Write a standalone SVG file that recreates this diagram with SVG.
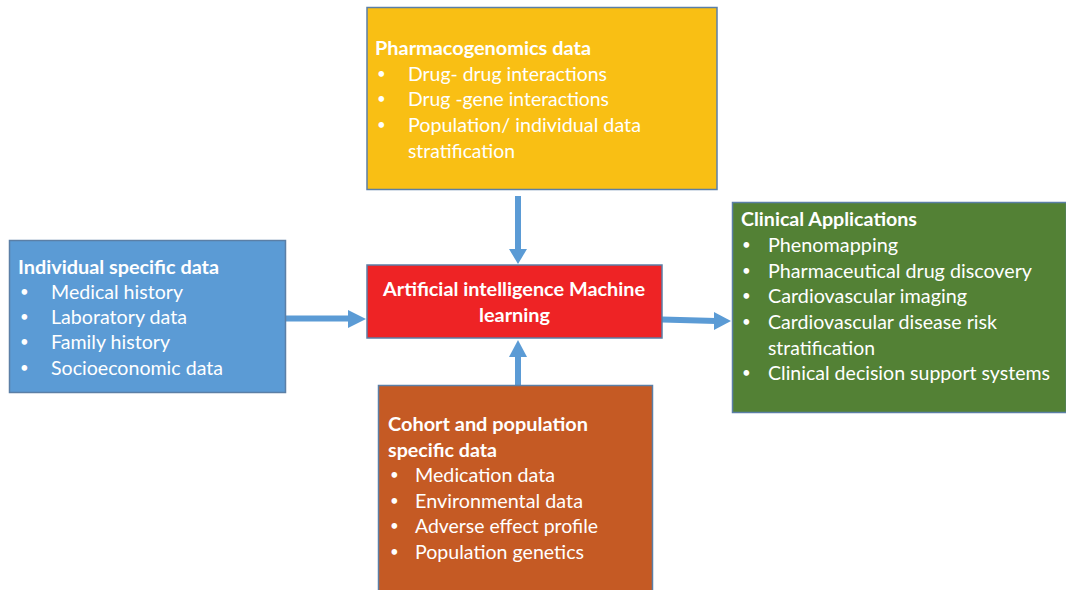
<svg xmlns="http://www.w3.org/2000/svg" width="1066" height="590" viewBox="0 0 1066 590">
<style>
.box{stroke:#5B7FA6;stroke-width:1.5}
text{font-family:Lato,"Open Sans","Liberation Sans",sans-serif;font-size:19px;fill:#ffffff}
.b{font-weight:bold}
.d{font-size:15px}
.arrow{fill:#5B9BD5}
.shaft{stroke:#5B9BD5;stroke-width:6;fill:none}
</style>
<rect width="1066" height="590" fill="#ffffff"/>
<g id="connectors">
<line class="shaft" x1="518" y1="196" x2="518" y2="250"/>
<polygon class="arrow" points="509,249 527,249 518,264"/>
<line class="shaft" x1="286" y1="318.5" x2="350" y2="318.5"/>
<polygon class="arrow" points="348,310 348,328 366,319"/>
<line class="shaft" x1="518" y1="386" x2="518" y2="355"/>
<polygon class="arrow" points="509,357 527,357 518,340"/>
<line class="shaft" x1="662" y1="319.5" x2="716" y2="321"/>
<polygon class="arrow" points="714,312 714,330 731,321"/>
</g>
<g id="pharmacogenomics">
<rect class="box" x="367" y="7.5" width="350" height="182" fill="#F9BF14"/>
<text class="b" x="375" y="54.5" textLength="216" lengthAdjust="spacingAndGlyphs">Pharmacogenomics data</text>
<text class="d" x="377" y="79">•</text><text x="408" y="80.5" textLength="199" lengthAdjust="spacingAndGlyphs">Drug- drug interactions</text>
<text class="d" x="377" y="104">•</text><text x="408" y="105.5" textLength="201" lengthAdjust="spacingAndGlyphs">Drug -gene interactions</text>
<text class="d" x="377" y="130">•</text><text x="408" y="131.5" textLength="233" lengthAdjust="spacingAndGlyphs">Population/ individual data</text>
<text x="408" y="157.5" textLength="107" lengthAdjust="spacingAndGlyphs">stratification</text>
</g>
<g id="individual">
<rect class="box" x="9.5" y="240.5" width="276" height="152" fill="#5B9BD5"/>
<text class="b" x="18" y="273.5" textLength="201" lengthAdjust="spacingAndGlyphs">Individual specific data</text>
<text class="d" x="20" y="297">•</text><text x="51" y="298.5" textLength="132" lengthAdjust="spacingAndGlyphs">Medical history</text>
<text class="d" x="20" y="322">•</text><text x="51" y="323.5" textLength="136" lengthAdjust="spacingAndGlyphs">Laboratory data</text>
<text class="d" x="20" y="347">•</text><text x="51" y="348.5" textLength="119" lengthAdjust="spacingAndGlyphs">Family history</text>
<text class="d" x="20" y="373">•</text><text x="51" y="374.5" textLength="172" lengthAdjust="spacingAndGlyphs">Socioeconomic data</text>
</g>
<g id="ai">
<rect class="box" x="367" y="265" width="295" height="73" fill="#EE2325"/>
<text class="b" x="383" y="295.5" textLength="262" lengthAdjust="spacingAndGlyphs">Artificial intelligence Machine</text>
<text class="b" x="479" y="321.5" textLength="71" lengthAdjust="spacingAndGlyphs">learning</text>
</g>
<g id="clinical">
<rect class="box" x="732.5" y="202.5" width="334" height="210" fill="#538135"/>
<text class="b" x="741" y="225.5" textLength="176" lengthAdjust="spacingAndGlyphs">Clinical Applications</text>
<text class="d" x="742" y="250">•</text><text x="768" y="251.5" textLength="130" lengthAdjust="spacingAndGlyphs">Phenomapping</text>
<text class="d" x="742" y="276">•</text><text x="768" y="277.5" textLength="264" lengthAdjust="spacingAndGlyphs">Pharmaceutical drug discovery</text>
<text class="d" x="742" y="301">•</text><text x="768" y="302.5" textLength="199" lengthAdjust="spacingAndGlyphs">Cardiovascular imaging</text>
<text class="d" x="742" y="327">•</text><text x="768" y="328.5" textLength="229" lengthAdjust="spacingAndGlyphs">Cardiovascular disease risk</text>
<text x="768" y="354.5" textLength="107" lengthAdjust="spacingAndGlyphs">stratification</text>
<text class="d" x="742" y="378">•</text><text x="768" y="379.5" textLength="282" lengthAdjust="spacingAndGlyphs">Clinical decision support systems</text>
</g>
<g id="cohort">
<rect class="box" x="378.5" y="385.5" width="274" height="210" fill="#C55A24"/>
<text class="b" x="388" y="430.5" textLength="200" lengthAdjust="spacingAndGlyphs">Cohort and population</text>
<text class="b" x="388" y="456.5" textLength="109" lengthAdjust="spacingAndGlyphs">specific data</text>
<text class="d" x="390" y="480">•</text><text x="415" y="481.5" textLength="140" lengthAdjust="spacingAndGlyphs">Medication data</text>
<text class="d" x="390" y="506">•</text><text x="415" y="507.5" textLength="168" lengthAdjust="spacingAndGlyphs">Environmental data</text>
<text class="d" x="390" y="531">•</text><text x="415" y="532.5" textLength="183" lengthAdjust="spacingAndGlyphs">Adverse effect profile</text>
<text class="d" x="390" y="557">•</text><text x="415" y="558.5" textLength="169" lengthAdjust="spacingAndGlyphs">Population genetics</text>
</g>
</svg>
